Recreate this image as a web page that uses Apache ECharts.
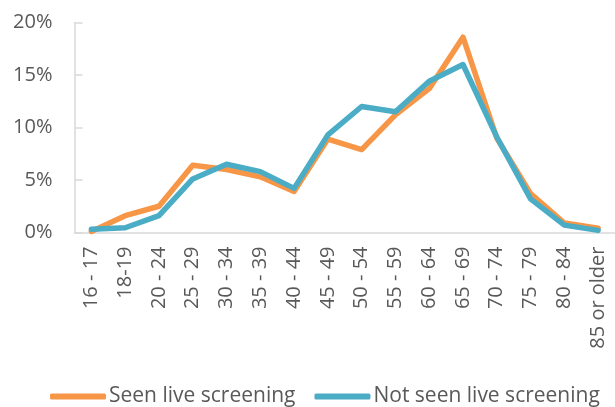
<!DOCTYPE html>
<html>
<head>
<meta charset="utf-8">
<script src="https://cdn.jsdelivr.net/npm/echarts@6/dist/echarts.min.js"></script>
<style>
html,body{margin:0;padding:0;background:#fff;}
#chart{width:615px;height:407px;}
</style>
</head>
<body>
<div id="chart"></div>
<script>
const categories = ["16 - 17","18-19","20 - 24","25 - 29","30 - 34","35 - 39","40 - 44","45 - 49","50 - 54","55 - 59","60 - 64","65 - 69","70 - 74","75 - 79","80 - 84","85 or older"];
const seenLive = [0.1, 1.6, 2.5, 6.4, 6.0, 5.3, 3.9, 8.9, 7.9, 11.2, 13.7, 18.6, 9.0, 3.7, 0.9, 0.4];
const notSeenLive = [0.3, 0.45, 1.6, 5.1, 6.5, 5.8, 4.2, 9.3, 12.0, 11.5, 14.4, 16.0, 9.1, 3.2, 0.7, 0.2];
const seriesNames = ["Seen live screening", "Not seen live screening"];
const yTicks = { min: 0, max: 20, interval: 5 };

const FONT = "'Open Sans', 'DejaVu Sans', sans-serif";
const TXT = '#595959';
const AX = '#d9d9d9';

const chart = echarts.init(document.getElementById('chart'), null, {renderer: 'canvas'});
chart.setOption({
  animation: false,
  backgroundColor: '#fff',
  grid: { left: 74.5, right: -7, top: 22.5, bottom: 174.5, containLabel: false },
  legend: {
    left: 45, top: 381,
    itemWidth: 56, itemHeight: 6, itemGap: 19,
    icon: 'roundRect',
    textStyle: { fontFamily: FONT, fontSize: 21, color: TXT, padding: [0,0,0,-2] },
    data: seriesNames
  },
  xAxis: {
    type: 'category',
    data: categories,
    boundaryGap: true,
    axisLine: { show: true, lineStyle: { color: AX, width: 1.5 } },
    axisTick: { show: false },
    axisLabel: { rotate: 90, interval: 0, margin: 14, fontFamily: FONT, fontSize: 20, color: TXT }
  },
  yAxis: {
    type: 'value',
    min: yTicks.min, max: yTicks.max, interval: yTicks.interval,
    splitLine: { show: false },
    axisLine: { show: true, lineStyle: { color: AX, width: 1.5 } },
    axisTick: { show: true, inside: true, length: 8, lineStyle: { color: AX, width: 1.5 } },
    axisLabel: { formatter: '{value}%', margin: 22, fontFamily: FONT, fontSize: 20, color: TXT }
  },
  series: [
    {
      name: seriesNames[0], type: 'line', data: seenLive,
      showSymbol: false, symbol: 'none',
      itemStyle: { color: '#F79646' },
      lineStyle: { color: '#F79646', width: 5.5, cap: 'round', join: 'round' }
    },
    {
      name: seriesNames[1], type: 'line', data: notSeenLive,
      showSymbol: false, symbol: 'none',
      itemStyle: { color: '#4BACC6' },
      lineStyle: { color: '#4BACC6', width: 5.5, cap: 'round', join: 'round' }
    }
  ]
});
</script>
</body>
</html>
